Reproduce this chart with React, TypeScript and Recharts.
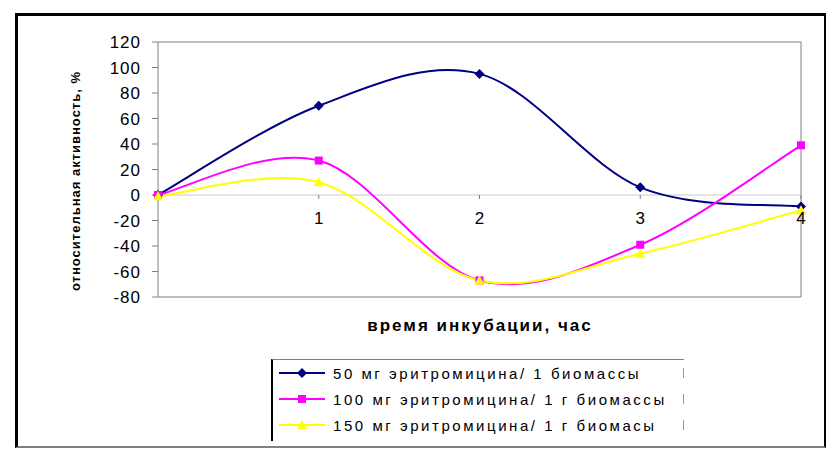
import React from 'react';
import { LineChart, Line, XAxis, YAxis, ReferenceLine, ReferenceArea } from 'recharts';

const hours = [0, 1, 2, 3, 4];
const series50 = [0, 70, 95, 6, -9];
const series100 = [0, 27, -67, -39, 39];
const series150 = [-1, 10, -67, -46, -12];
const yTicks = [-80, -60, -40, -20, 0, 20, 40, 60, 80, 100, 120];
const xTicks = [1, 2, 3, 4];
const legendLabels = [
  '50 мг эритромицина/ 1 биомассы',
  '100 мг эритромицина/ 1 г биомассы',
  '150 мг эритромицина/ 1 г биомасы',
];
const colors = ['#000080', '#FF00FF', '#FFFF00'];

const data = hours.map((h, i) => ({ h, a: series50[i], b: series100[i], c: series150[i] }));

const Y_MIN = -80;
const Y_MAX = 120;
const PLOT_TOP = 42;
const PLOT_BOTTOM = 297;
const PLOT_H = PLOT_BOTTOM - PLOT_TOP;
const ZERO_SHIFT = (PLOT_H * (0 - Y_MIN)) / (Y_MAX - Y_MIN);
const X_AXIS_H = 30;

function catmullRom(context: any) {
  let pts: number[][] = [];
  return {
    areaStart() {},
    areaEnd() {},
    lineStart() {
      pts = [];
    },
    point(x: number, y: number) {
      pts.push([+x, +y]);
    },
    lineEnd() {
      if (!pts.length) return;
      context.moveTo(pts[0][0], pts[0][1]);
      for (let i = 0; i < pts.length - 1; i++) {
        const p0 = pts[i - 1] || pts[i];
        const p1 = pts[i];
        const p2 = pts[i + 1];
        const p3 = pts[i + 2] || p2;
        const c1x = p1[0] + (p2[0] - p0[0]) / 6;
        const c1y = p1[1] + (p2[1] - p0[1]) / 6;
        const c2x = p2[0] - (p3[0] - p1[0]) / 6;
        const c2y = p2[1] - (p3[1] - p1[1]) / 6;
        context.bezierCurveTo(c1x, c1y, c2x, c2y, p2[0], p2[1]);
      }
    },
  };
}

const font = '"Liberation Sans", Arial, sans-serif';

const Diamond = (props: any) => {
  const { cx, cy, index } = props;
  if (cx == null || cy == null) return <g key={index} />;
  return <path key={index} d={`M${cx},${cy - 5}L${cx + 5},${cy}L${cx},${cy + 5}L${cx - 5},${cy}Z`} fill="#000080" />;
};
const Square = (props: any) => {
  const { cx, cy, index } = props;
  if (cx == null || cy == null) return <g key={index} />;
  return <rect key={index} x={cx - 4} y={cy - 4} width={8} height={8} fill="#FF00FF" />;
};
const Triangle = (props: any) => {
  const { cx, cy, index } = props;
  if (cx == null || cy == null) return <g key={index} />;
  return <path key={index} d={`M${cx},${cy - 5}L${cx + 5},${cy + 4}L${cx - 5},${cy + 4}Z`} fill="#FFFF00" />;
};

const XTick = (props: any) => {
  const { x, y, payload } = props;
  const zy = y - ZERO_SHIFT;
  return (
    <g>
      <line x1={x} y1={zy} x2={x} y2={zy + 4} stroke="#808080" strokeWidth={1} />
      <text x={x} y={zy + 29} textAnchor="middle" fontSize={17} fontFamily={font} fill="#000">
        {payload.value}
      </text>
    </g>
  );
};

const markerIcons = [
  (c: string) => <path d="M23,1L28,6L23,11L18,6Z" fill={c} />,
  (c: string) => <rect x={19} y={2} width={8} height={8} fill={c} />,
  (c: string) => <path d="M23,1L28,10L18,10Z" fill={c} />,
];

export default function App() {
  return (
    <div style={{ position: 'absolute', left: 0, top: 0, width: 836, height: 463, background: '#fff', fontFamily: font }}>
      <div
        style={{
          position: 'absolute',
          left: 15,
          top: 13,
          width: 806,
          height: 430,
          borderLeft: '3px solid #000',
          borderTop: '3px solid #000',
          borderRight: '2px solid #000',
          borderBottom: '2px solid #808080',
        }}
      />
      <div style={{ position: 'absolute', left: 0, top: 0 }}>
        <LineChart
          width={836}
          height={463}
          data={data}
          margin={{ top: PLOT_TOP, right: 35, left: 0, bottom: 463 - PLOT_BOTTOM - X_AXIS_H }}
        >
          <ReferenceArea x1={0} x2={4} y1={Y_MIN} y2={Y_MAX} fill="#fff" fillOpacity={0} stroke="#808080" strokeWidth={1} />
          <ReferenceLine y={0} stroke="#c8c8c8" strokeWidth={1} />
          <XAxis
            dataKey="h"
            type="number"
            domain={[0, 4]}
            ticks={xTicks}
            axisLine={false}
            tickLine={false}
            tickSize={0}
            tickMargin={0}
            height={X_AXIS_H}
            tick={(p: any) => <XTick key={p.index} {...p} />}
            interval={0}
          />
          <YAxis
            type="number"
            domain={[Y_MIN, Y_MAX]}
            ticks={yTicks}
            width={158}
            axisLine={false}
            tickLine={{ stroke: '#808080' }}
            tickSize={6}
            tickMargin={11}
            interval={0}
            tick={{ fontSize: 17, fill: '#000', fontFamily: font, letterSpacing: 1 }}
          />
          <Line dataKey="a" type={catmullRom as any} stroke={colors[0]} strokeWidth={2} dot={Diamond} activeDot={false} isAnimationActive={false} />
          <Line dataKey="b" type={catmullRom as any} stroke={colors[1]} strokeWidth={2} dot={Square} activeDot={false} isAnimationActive={false} />
          <Line dataKey="c" type={catmullRom as any} stroke={colors[2]} strokeWidth={2} dot={Triangle} activeDot={false} isAnimationActive={false} />
        </LineChart>
      </div>
      <div
        style={{
          position: 'absolute',
          left: 75,
          top: 181,
          transform: 'translate(-50%, -50%) rotate(-90deg)',
          whiteSpace: 'nowrap',
          fontSize: 13,
          letterSpacing: 1,
          fontWeight: 'bold',
          color: '#000',
        }}
      >
        относительная активность, %
      </div>
      <div
        style={{
          position: 'absolute',
          left: 480,
          top: 326,
          transform: 'translate(-50%, -50%)',
          whiteSpace: 'nowrap',
          fontSize: 17,
          fontWeight: 'bold',
          letterSpacing: 2,
          color: '#000',
        }}
      >
        время инкубации, час
      </div>
      <div
        style={{
          position: 'absolute',
          left: 271,
          top: 359,
          width: 411,
          height: 81,
          borderLeft: '2px solid #000',
          borderTop: '1px solid #808080',
          background: '#fff',
        }}
      >
        {legendLabels.map((label, i) => (
          <div key={i} style={{ position: 'absolute', left: 6, top: 3 + i * 26, height: 20, display: 'flex', alignItems: 'center', whiteSpace: 'nowrap' }}>
            <svg width={48} height={12} style={{ display: 'block' }}>
              <line x1={0} y1={6} x2={46} y2={6} stroke={colors[i]} strokeWidth={2} />
              {markerIcons[i](colors[i])}
            </svg>
            <span style={{ marginLeft: 6, fontSize: 15, letterSpacing: 2.55, color: '#000' }}>{label}</span>
          </div>
        ))}
        {[0, 1, 2].map((i) => (
          <div key={'t' + i} style={{ position: 'absolute', left: 410, top: 8 + i * 26, width: 1, height: 10, background: '#999' }} />
        ))}
      </div>
    </div>
  );
}
